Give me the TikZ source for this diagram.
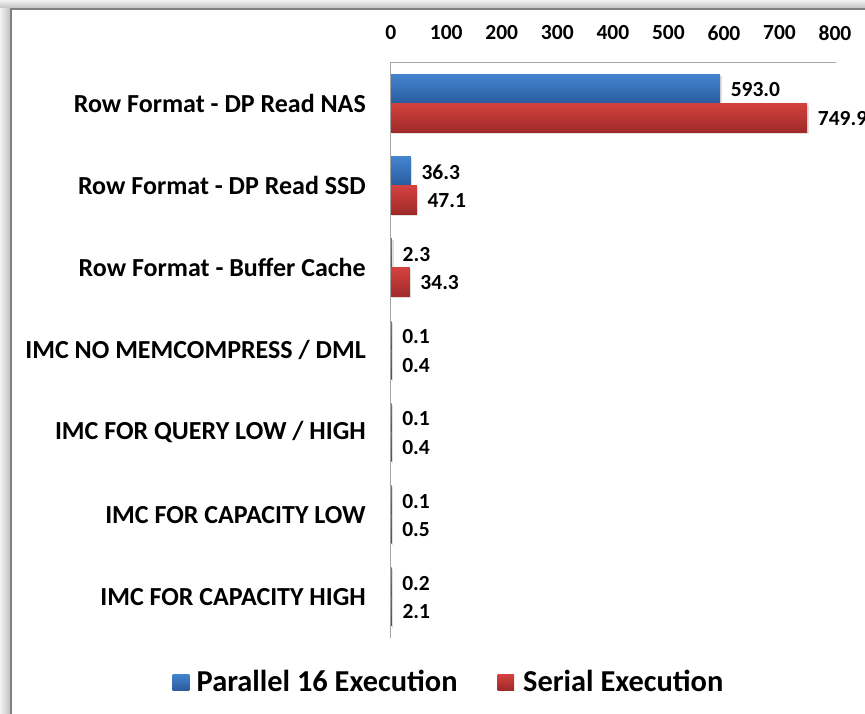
\documentclass[tikz,border=0pt]{standalone}
\usepackage{fontspec}
\setmainfont{Carlito}
\definecolor{bluetop}{RGB}{68,132,208}
\definecolor{bluebot}{RGB}{42,92,158}
\definecolor{redtop}{RGB}{212,66,62}
\definecolor{redbot}{RGB}{158,42,42}
\definecolor{framegray}{RGB}{128,128,128}
\definecolor{axisgray}{RGB}{165,165,165}
\tikzset{
  catlabel/.style={anchor=east, inner sep=0pt, font=\fontsize{26}{26}\selectfont\bfseries},
  ticklabel/.style={inner sep=0pt, font=\fontsize{21.5}{21.5}\selectfont\bfseries},
  vallabel/.style={anchor=west, inner sep=0pt, font=\fontsize{21.5}{21.5}\selectfont\bfseries},
  leglabel/.style={anchor=base west, inner sep=0pt, font=\fontsize{30.4}{30.4}\selectfont\bfseries},
  bluebar/.style={top color=bluetop, bottom color=bluebot},
  redbar/.style={top color=redtop, bottom color=redbot},
  barshadow/.style={fill=black, opacity=0.12},
  axisline/.style={draw=axisgray, line width=0.9pt}
}
\begin{document}
\begin{tikzpicture}[x=1pt,y=-1pt]
\useasboundingbox (0,0) rectangle (865,714);
\clip (0,0) rectangle (865,714);
% outer shadow of the frame
\shade[left color=gray!10, right color=gray!48] (0,0) rectangle (10,714);
\shade[top color=gray!10, bottom color=gray!48] (0,0) rectangle (865,8);
\fill[white] (10,8) rectangle (865,714);
\draw[framegray, line width=1.6pt] (11,730) -- (11,9) -- (880,9);
% axes
\coordinate (o) at (390.7,62);
\coordinate (xe) at (835.5,62);
\coordinate (ye) at (390.7,638);
\draw[axisline] (o) -- (xe);
\draw[axisline] (o) -- (ye);
% tick labels
\foreach \v in {0,100,...,800}{
  \node[ticklabel] (tick\v) at ({390.7+\v*0.5554},33) {\v};
}
% bars
\foreach \cat/\pv/\sv [count=\i from 0] in {
  {Row Format - DP Read NAS}/593.0/749.9,
  {Row Format - DP Read SSD}/36.3/47.1,
  {Row Format - Buffer Cache}/2.3/34.3,
  {IMC NO MEMCOMPRESS / DML}/0.1/0.4,
  {IMC FOR QUERY LOW / HIGH}/0.1/0.4,
  {IMC FOR CAPACITY LOW}/0.1/0.5,
  {IMC FOR CAPACITY HIGH}/0.2/2.1}{
  \pgfmathsetmacro{\yc}{62+82.3*(\i+0.5)}
  \pgfmathsetmacro{\wp}{max(\pv*0.5554,0.9)}
  \pgfmathsetmacro{\ws}{max(\sv*0.5554,0.9)}
  \node[catlabel] (cat\i) at (366,\yc) {\cat};
  \fill[barshadow] (391.5,{\yc-27.5}) rectangle ({390.7+\wp+1.6},{\yc+1.6});
  \fill[barshadow] (391.5,{\yc+1.5}) rectangle ({390.7+\ws+1.6},{\yc+30.6});
  \shade[bluebar] (390.7,{\yc-29}) rectangle ({390.7+\wp},\yc);
  \shade[redbar] (390.7,\yc) rectangle ({390.7+\ws},{\yc+29});
  \node[vallabel] (pval\i) at ({390.7+\wp+10.5},{\yc-13.5}) {\pv};
  \node[vallabel] (sval\i) at ({390.7+\ws+10.5},{\yc+15}) {\sv};
}
\draw[axisline] (o) -- (ye);
% legend
\shade[bluebar] (172.7,674) rectangle (189.3,690);
\node[leglabel] (legp) at (196.5,691.5) {Parallel 16 Execution};
\shade[redbar] (497.5,674) rectangle (514.1,690);
\node[leglabel] (legs) at (523,691.5) {Serial Execution};
\end{tikzpicture}
\end{document}
